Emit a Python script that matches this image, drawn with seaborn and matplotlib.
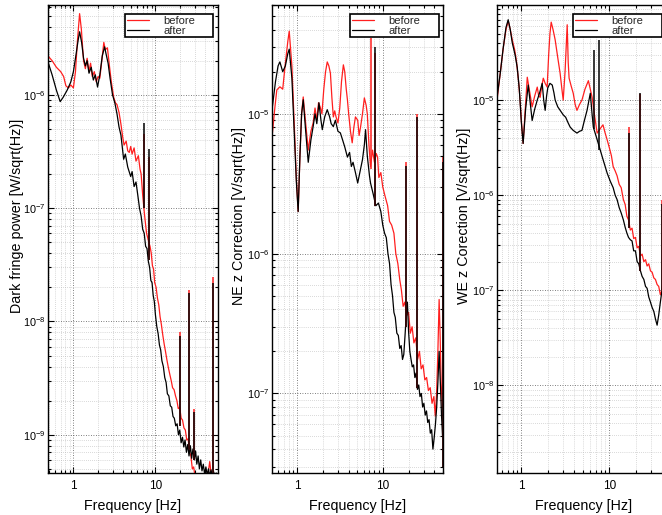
import numpy as np
import matplotlib
matplotlib.use("Agg")
import matplotlib.pyplot as plt
import seaborn as sns
from matplotlib.ticker import LogLocator, NullFormatter

# ---- panel 1 : dark fringe power ----
f1_before = [0.49, 0.55, 0.62, 0.70, 0.76, 0.81, 0.87, 0.93, 1.00, 1.06,
             1.12, 1.19, 1.25, 1.33, 1.40, 1.47, 1.55, 1.62, 1.70, 1.80,
             1.90, 2.00, 2.10, 2.22, 2.35, 2.45, 2.60, 2.75, 2.90, 3.10,
             3.25, 3.40, 3.60, 3.80, 4.00, 4.15, 4.40, 4.60, 4.80, 5.00,
             5.20, 5.50, 5.80, 6.20, 6.50, 6.70, 7.00, 7.40, 7.80, 8.20,
             8.60, 8.90, 9.20, 9.50, 9.80, 10.2, 10.6, 11.0, 11.4, 11.8,
             12.3, 12.8, 13.3, 13.8, 14.4, 15.0, 15.6, 16.2, 16.9, 17.6,
             18.3, 19.0, 19.8, 20.6, 21.4, 22.3, 23.2, 24.1, 25.1, 26.1,
             27.1, 28.2, 29.3, 30.5, 32, 34, 36, 38, 40, 42,
             44, 46, 48, 51, 54, 57]
v1_before = [2.2e-6, 2.0e-6, 1.75e-6, 1.6e-6, 1.45e-6, 1.2e-6, 1.15e-6, 1.22e-6, 1.15e-6, 1.6e-6,
             3.0e-6, 5.2e-6, 3.8e-6, 2.0e-6, 1.7e-6, 2.1e-6, 1.6e-6, 1.9e-6, 1.45e-6, 1.6e-6,
             1.3e-6, 1.45e-6, 1.4e-6, 2.0e-6, 2.9e-6, 2.5e-6, 2.6e-6, 1.8e-6, 1.3e-6, 9.5e-7,
             8.5e-7, 8.2e-7, 7.0e-7, 5.5e-7, 4.2e-7, 3.6e-7, 3.9e-7, 3.2e-7, 3.1e-7, 3.5e-7,
             3.0e-7, 3.4e-7, 2.6e-7, 2.9e-7, 2.2e-7, 2.0e-7, 1.3e-7, 8.5e-8, 6.0e-8, 5.2e-8,
             4.6e-8, 4.0e-8, 3.1e-8, 2.9e-8, 2.2e-8, 2.0e-8, 1.6e-8, 1.4e-8, 1.1e-8, 9.5e-9,
             7.6e-9, 6.3e-9, 5.4e-9, 4.6e-9, 3.9e-9, 3.4e-9, 3.0e-9, 2.6e-9, 2.5e-9, 2.2e-9,
             2.0e-9, 1.7e-9, 1.75e-9, 1.4e-9, 1.35e-9, 1.15e-9, 1.1e-9, 9.0e-10, 9.2e-10, 7.0e-10,
             6.5e-10, 5.0e-10, 5.2e-10, 4.2e-10, 4.0e-10, 3.6e-10, 3.8e-10, 3.5e-10, 3.8e-10, 4.1e-10,
             4.6e-10, 5.8e-10, 4.4e-10, 3.8e-10, 3.6e-10, 3.5e-10]
f1_after = [0.49, 0.55, 0.62, 0.69, 0.75, 0.84, 0.93, 1.00, 1.08, 1.14,
            1.19, 1.26, 1.33, 1.40, 1.47, 1.55, 1.65, 1.75, 1.85, 1.97,
            2.10, 2.25, 2.40, 2.50, 2.65, 2.80, 3.00, 3.20, 3.40, 3.60,
            3.80, 4.10, 4.30, 4.60, 5.00, 5.20, 5.50, 5.80, 6.10, 6.40,
            6.70, 7.00, 7.30, 7.60, 7.90, 8.20, 8.50, 8.80, 9.10, 9.40,
            9.70, 10.0, 10.4, 10.8, 11.2, 11.6, 12.0, 12.5, 13.0, 13.5,
            14.0, 14.6, 15.2, 15.8, 16.4, 17.0, 17.7, 18.4, 19.1, 19.8,
            20.6, 21.4, 22.2, 23.0, 23.9, 24.8, 25.7, 26.7, 27.7, 28.7,
            29.8, 30.9, 32.0, 33.2, 34.4, 35.7, 37.0, 38.4, 39.8, 41.3,
            42.8, 44.4, 46.0, 47.7, 49.5, 51.3, 53.2, 55.2, 57]
v1_after = [1.95e-6, 1.5e-6, 1.1e-6, 8.7e-7, 9.5e-7, 1.1e-6, 1.3e-6, 1.6e-6, 2.3e-6, 3.0e-6,
            3.6e-6, 2.9e-6, 2.1e-6, 1.8e-6, 2.0e-6, 1.55e-6, 1.75e-6, 1.35e-6, 1.5e-6, 1.17e-6,
            1.5e-6, 2.2e-6, 2.65e-6, 2.3e-6, 1.9e-6, 1.4e-6, 1.0e-6, 8.5e-7, 6.8e-7, 5.2e-7,
            4.4e-7, 2.7e-7, 3.0e-7, 2.3e-7, 1.9e-7, 2.1e-7, 1.55e-7, 1.7e-7, 1.3e-7, 1.0e-7,
            8.5e-8, 6.5e-8, 6.0e-8, 4.6e-8, 4.4e-8, 3.4e-8, 3.0e-8, 2.3e-8, 2.2e-8, 1.7e-8,
            1.5e-8, 1.15e-8, 9.0e-9, 7.8e-9, 6.2e-9, 5.6e-9, 4.5e-9, 4.0e-9, 3.2e-9, 2.9e-9,
            2.3e-9, 2.2e-9, 1.8e-9, 1.75e-9, 1.45e-9, 1.4e-9, 1.2e-9, 1.25e-9, 1.0e-9, 1.1e-9,
            8.5e-10, 9.5e-10, 7.8e-10, 9.0e-10, 7.0e-10, 8.2e-10, 6.5e-10, 8.0e-10, 6.2e-10, 7.5e-10,
            6.0e-10, 7.2e-10, 5.5e-10, 6.5e-10, 5.0e-10, 6.0e-10, 4.8e-10, 5.5e-10, 4.5e-10, 5.2e-10,
            4.4e-10, 5.0e-10, 4.3e-10, 4.9e-10, 4.2e-10, 4.7e-10, 4.3e-10, 4.6e-10, 4.4e-10]
lines1_f = [7.3, 8.4, 20.0, 26.0, 29.5, 50.0]
lines1_low = [1.0e-7, 3.5e-8, 1.2e-9, 7.5e-10, 6.0e-10, 4.2e-10]
lines1_before = [4.5e-7, 2.8e-7, 8.1e-9, 1.9e-8, 1.7e-9, 2.45e-8]
lines1_after = [5.6e-7, 3.3e-7, 7.5e-9, 1.8e-8, 1.6e-9, 2.2e-8]
ydec1 = [-9, -8, -7, -6]

# ---- panel 2 : NE z correction ----
f2_before = [0.51, 0.55, 0.58, 0.63, 0.68, 0.73, 0.78, 0.81, 0.87, 0.93,
             0.98, 1.03, 1.08, 1.13, 1.18, 1.25, 1.35, 1.45, 1.54, 1.62,
             1.70, 1.78, 1.86, 1.95, 2.05, 2.15, 2.25, 2.35, 2.45, 2.55,
             2.65, 2.75, 2.85, 3.00, 3.15, 3.30, 3.47, 3.60, 3.75, 3.87,
             4.00, 4.20, 4.40, 4.60, 4.80, 5.10, 5.30, 5.50, 5.80, 6.10,
             6.40, 6.60, 6.90, 7.20, 7.60, 8.00, 8.40, 8.70, 9.00, 9.50,
             10.0, 10.6, 11.4, 12.0, 12.7, 13.5, 14.2, 15.0, 15.8, 16.5,
             17.3, 18.1, 19.0, 20.0, 21.0, 22.0, 23.1, 24.3, 25.5, 26.8,
             28.1, 29.5, 31.0, 32.5, 34.1, 35.8, 37.6, 39.5, 41.0, 42.5,
             44.0, 45.5, 46.8, 48.0, 49.5]
v2_before = [6.8e-6, 1.1e-5, 1.48e-5, 1.56e-5, 1.5e-5, 2.3e-5, 3.3e-5, 3.9e-5, 2.2e-5, 8e-6,
             3.5e-6, 2.0e-6, 5e-6, 1.0e-5, 1.32e-5, 9e-6, 5.5e-6, 7.5e-6, 8.6e-6, 1.1e-5,
             9e-6, 1.2e-5, 1.12e-5, 1.0e-5, 1.5e-5, 2.0e-5, 2.35e-5, 2.2e-5, 1.95e-5, 1.3e-5,
             9.5e-6, 1.05e-5, 9.5e-6, 8.6e-6, 1.1e-5, 1.7e-5, 2.24e-5, 2.0e-5, 1.5e-5, 1.26e-5,
             1.0e-5, 7.5e-6, 6.2e-6, 8e-6, 9.5e-6, 9e-6, 7e-6, 8e-6, 1.0e-5, 1.3e-5,
             1.15e-5, 1.0e-5, 6e-6, 4.2e-6, 5.5e-6, 4.5e-6, 5.2e-6, 4.9e-6, 3.5e-6, 3.8e-6,
             3.0e-6, 2.6e-6, 2.2e-6, 1.7e-6, 1.6e-6, 1.4e-6, 1.0e-6, 8.5e-7, 6.5e-7, 5.5e-7,
             4.2e-7, 4.5e-7, 3.6e-7, 3.8e-7, 2.7e-7, 3.0e-7, 2.3e-7, 2.5e-7, 1.75e-7, 2.0e-7,
             1.5e-7, 1.6e-7, 1.25e-7, 1.3e-7, 1.05e-7, 1.1e-7, 8.5e-8, 9.5e-8, 6.9e-8, 1.0e-7,
             2.0e-7, 4.7e-7, 2.5e-7, 1.2e-7, 8e-8]
f2_after = [0.51, 0.56, 0.60, 0.63, 0.68, 0.73, 0.78, 0.81, 0.87, 0.93,
            0.98, 1.03, 1.08, 1.13, 1.18, 1.25, 1.35, 1.45, 1.54, 1.62,
            1.70, 1.80, 1.90, 1.97, 2.10, 2.25, 2.40, 2.50, 2.65, 2.80,
            3.00, 3.20, 3.40, 3.60, 3.87, 4.10, 4.30, 4.50, 4.80, 5.10,
            5.40, 5.80, 6.10, 6.30, 6.60, 7.00, 7.20, 7.70, 8.30, 8.90,
            9.50, 10.0, 10.5, 11.0, 11.5, 12.0, 12.5, 13.0, 13.5, 14.0,
            14.6, 15.2, 15.8, 16.4, 17.0, 17.6, 18.2, 18.8, 19.4, 20.0,
            20.7, 21.4, 22.1, 22.9, 23.7, 24.5, 25.4, 26.3, 27.2, 28.2,
            29.2, 30.2, 31.3, 32.4, 33.5, 34.7, 35.9, 37.2, 38.5, 39.8,
            41.2, 42.6, 44.0, 45.5, 47.0, 48.5, 49.8]
v2_after = [1.07e-5, 1.7e-5, 2.2e-5, 2.35e-5, 2.0e-5, 2.2e-5, 2.7e-5, 2.9e-5, 1.8e-5, 7e-6,
            3.3e-6, 2.0e-6, 5e-6, 1.0e-5, 1.26e-5, 8e-6, 4.5e-6, 6.5e-6, 8.1e-6, 1.0e-5,
            8.5e-6, 1.2e-5, 9e-6, 7.7e-6, 9.5e-6, 1.07e-5, 9.5e-6, 8.5e-6, 8.1e-6, 9e-6,
            7.5e-6, 7.3e-6, 6.5e-6, 5.8e-6, 4.9e-6, 5.3e-6, 4.2e-6, 4.5e-6, 3.8e-6, 3.2e-6,
            3.8e-6, 4.7e-6, 6e-6, 7.7e-6, 5e-6, 3.6e-6, 3.2e-6, 2.7e-6, 2.2e-6, 2.3e-6,
            2.0e-6, 1.6e-6, 1.4e-6, 1.3e-6, 1.0e-6, 8.5e-7, 6.0e-7, 5.0e-7, 3.8e-7, 3.5e-7,
            2.7e-7, 2.6e-7, 2.1e-7, 2.2e-7, 1.75e-7, 1.9e-7, 2.6e-7, 3.6e-7, 4.5e-7, 2.8e-7,
            2.0e-7, 1.75e-7, 1.55e-7, 1.6e-7, 1.3e-7, 1.4e-7, 1.07e-7, 1.15e-7, 9.5e-8, 1.0e-7,
            8.0e-8, 8.5e-8, 7.0e-8, 7.5e-8, 6.2e-8, 6.5e-8, 5.2e-8, 5.5e-8, 4.0e-8, 4.8e-8,
            6e-8, 8e-8, 1.2e-7, 2e-7, 1.2e-7, 7e-8, 5e-8]
lines2_f = [7.2, 8.1, 18.6, 25.0, 50.0]
lines2_low = [4.0e-6, 2.2e-6, 3.0e-7, 1.1e-7, 3.0e-8]
lines2_before = [3.5e-5, 2.7e-5, 4.5e-6, 1.0e-5, 4.9e-6]
lines2_after = [4.0e-6, 3.0e-5, 4.2e-6, 9.5e-6, 4.5e-6]
ydec2 = [-7, -6, -5]

# ---- panel 3 : WE z correction ----
f3_before = [0.53, 0.58, 0.62, 0.67, 0.71, 0.75, 0.79, 0.84, 0.88, 0.93,
             0.97, 1.01, 1.05, 1.10, 1.17, 1.25, 1.33, 1.42, 1.52, 1.58,
             1.64, 1.71, 1.78, 1.87, 1.97, 2.05, 2.12, 2.19, 2.30, 2.43,
             2.60, 2.77, 2.90, 3.00, 3.15, 3.33, 3.42, 3.50, 3.70, 3.90,
             4.10, 4.30, 4.60, 4.90, 5.30, 5.80, 6.10, 6.40, 6.80, 7.30,
             7.90, 8.50, 9.00, 9.50, 10.0, 10.6, 11.1, 11.7, 12.3, 13.0,
             13.7, 14.5, 15.2, 15.9, 16.6, 17.4, 18.2, 19.0, 19.9, 20.8,
             21.7, 22.7, 23.7, 24.8, 25.9, 27.0, 28.2, 29.5, 30.8, 32.2,
             33.6, 35.1, 36.6, 38.2, 39.9, 41.7, 43.5, 45.5, 47.5, 49.5]
v3_before = [1.0e-5, 2.0e-5, 3.4e-5, 5.5e-5, 6.8e-5, 5.5e-5, 4.3e-5, 3.4e-5, 2.6e-5, 1.6e-5,
             1.0e-5, 5.5e-6, 3.5e-6, 7e-6, 1.74e-5, 1.2e-5, 8.5e-6, 1.1e-5, 1.37e-5, 1.1e-5,
             1.07e-5, 1.4e-5, 1.7e-5, 1.5e-5, 1.37e-5, 3.0e-5, 5e-5, 6.6e-5, 5.5e-5, 4.3e-5,
             2.8e-5, 1.9e-5, 1.3e-5, 1.0e-5, 2.0e-5, 6.2e-5, 2.5e-5, 1.7e-5, 1.4e-5, 1.18e-5,
             9e-6, 7.8e-6, 9e-6, 1.0e-5, 1.3e-5, 1.6e-5, 1.3e-5, 1.07e-5, 7e-6, 4.5e-6,
             5e-6, 5.5e-6, 4.5e-6, 3.8e-6, 3.2e-6, 2.6e-6, 2.0e-6, 1.8e-6, 1.6e-6, 1.3e-6,
             1.2e-6, 9e-7, 8e-7, 6e-7, 5.5e-7, 4.3e-7, 4.5e-7, 3.5e-7, 3.6e-7, 2.8e-7,
             2.9e-7, 2.3e-7, 2.4e-7, 2.0e-7, 2.1e-7, 1.8e-7, 1.9e-7, 1.6e-7, 1.55e-7, 1.35e-7,
             1.3e-7, 1.15e-7, 1.1e-7, 9e-8, 1.0e-7, 1.5e-7, 3e-7, 2e-7, 1.3e-7, 1.0e-7]
f3_after = [0.53, 0.58, 0.62, 0.67, 0.71, 0.75, 0.79, 0.85, 0.90, 0.95,
            1.00, 1.05, 1.12, 1.20, 1.27, 1.33, 1.42, 1.52, 1.62, 1.73,
            1.80, 1.87, 1.94, 2.00, 2.12, 2.25, 2.35, 2.43, 2.60, 2.77,
            3.00, 3.20, 3.40, 3.60, 3.90, 4.30, 4.60, 4.90, 5.20, 5.60,
            6.10, 6.40, 6.60, 7.20, 7.90, 8.60, 9.50, 10.3, 11.1, 11.7,
            12.3, 13.0, 13.7, 14.5, 15.2, 15.9, 16.6, 17.4, 18.2, 19.0,
            19.9, 20.8, 21.7, 22.7, 23.7, 24.8, 25.9, 27.0, 28.2, 29.5,
            30.8, 32.2, 33.6, 35.1, 36.6, 38.2, 39.9, 41.7, 43.5, 45.5,
            47.5, 49.5]
v3_after = [1.07e-5, 2.0e-5, 3.4e-5, 5.8e-5, 7.0e-5, 5.5e-5, 4.0e-5, 3.0e-5, 2.2e-5, 1.3e-5,
            6e-6, 3.5e-6, 8e-6, 1.44e-5, 9e-6, 6.1e-6, 8e-6, 1.0e-5, 1.2e-5, 1.5e-5,
            1.0e-5, 7.8e-6, 1.1e-5, 1.34e-5, 1.5e-5, 1.44e-5, 1.2e-5, 1.0e-5, 8.5e-6, 7.8e-6,
            7e-6, 6.6e-6, 5.8e-6, 5.2e-6, 4.8e-6, 4.5e-6, 4.7e-6, 4.8e-6, 6e-6, 7.8e-6,
            1.18e-5, 7e-6, 5.2e-6, 4e-6, 3.0e-6, 2.3e-6, 1.7e-6, 1.4e-6, 1.2e-6, 1.0e-6,
            9e-7, 7.4e-7, 6.5e-7, 5.5e-7, 4.6e-7, 4.0e-7, 3.6e-7, 3.4e-7, 3.3e-7, 2.6e-7,
            2.6e-7, 2.0e-7, 1.9e-7, 1.6e-7, 1.4e-7, 1.3e-7, 1.1e-7, 1.05e-7, 8.5e-8, 7.5e-8,
            6.6e-8, 6.0e-8, 5.0e-8, 4.3e-8, 5.5e-8, 7.5e-8, 1.0e-7, 1.4e-7, 1.1e-7, 8e-8,
            6e-8, 5e-8]
lines3_f = [6.7, 7.7, 16.8, 22.5, 40.0, 50.0]
lines3_low = [5e-6, 3e-6, 4.5e-7, 1.6e-7, 1.0e-7, 5e-8]
lines3_before = [5e-6, 3e-6, 5.2e-6, 1.15e-5, 8.9e-7, 5e-6]
lines3_after = [3.4e-5, 4.3e-5, 4.5e-6, 1.18e-5, 8.0e-7, 4.5e-6]
ydec3 = [-8, -7, -6, -5]

sns.set_theme(style="white")
plt.rcParams['font.family'] = ['Liberation Sans', 'DejaVu Sans']
plt.rcParams['mathtext.fontset'] = 'custom'
plt.rcParams['mathtext.rm'] = 'Liberation Sans'
plt.rcParams['mathtext.it'] = 'Liberation Sans:italic'
plt.rcParams['mathtext.bf'] = 'Liberation Sans:bold'

RED = '#ff1f1f'


def spectrum_panel(ax, f_b, v_b, f_a, v_a, sp_f, sp_lo, sp_b, sp_a,
                   xlim, ylim, ydec, ylabel, leg_x, leg_w, lab_x):
    ax.set_xscale('log')
    ax.set_yscale('log')
    sns.lineplot(x=f_b, y=v_b, color=RED, linewidth=0.9, estimator=None,
                 sort=False, ax=ax, label='before')
    sns.lineplot(x=f_a, y=v_a, color='black', linewidth=0.9, estimator=None,
                 sort=False, ax=ax, label='after')
    ax.vlines(sp_f, sp_lo, sp_b, color=RED, linewidth=1.1)
    ax.vlines(sp_f, sp_lo, sp_a, color='black', linewidth=1.1)

    ax.set_xlim(*xlim)
    ax.set_ylim(*ylim)
    ax.set_xticks([1, 10])
    ax.set_xticklabels(['1', '10'])
    ax.xaxis.set_minor_locator(LogLocator(base=10, subs=np.arange(2, 10), numticks=50))
    ax.xaxis.set_minor_formatter(NullFormatter())
    ax.set_yticks([10.0 ** d for d in ydec])
    ax.set_yticklabels([r'$\mathregular{10^{%d}}$' % d for d in ydec])
    ax.yaxis.set_minor_locator(LogLocator(base=10, subs=np.arange(2, 10), numticks=50))
    ax.yaxis.set_minor_formatter(NullFormatter())

    ax.grid(True, which='major', linestyle=(0, (1, 2)), color='#555555', linewidth=0.6)
    ax.grid(True, which='minor', linestyle=(0, (1, 2)), color='#b5b5b5', linewidth=0.5)
    ax.set_axisbelow(True)
    ax.tick_params(which='both', direction='in', top=True, right=True,
                   bottom=True, left=True, colors='black', width=0.8)
    ax.tick_params(which='major', length=4.5)
    ax.tick_params(which='minor', length=2.5)
    ax.tick_params(axis='x', labelsize=8.5, pad=5)
    ax.tick_params(axis='y', labelsize=7.8, pad=1.5)
    for s in ax.spines.values():
        s.set_color('black')
        s.set_linewidth(1.0)

    ax.set_xlabel('Frequency [Hz]', fontsize=10.3, color='black', labelpad=5)
    ax.set_ylabel(ylabel, fontsize=10.3, color='black')
    ax.yaxis.set_label_coords(lab_x, 0.55)

    leg = ax.legend(loc='upper left', bbox_to_anchor=(leg_x, 0.981, leg_w, 0),
                    mode='expand', borderaxespad=0, fontsize=8, frameon=True,
                    fancybox=False, edgecolor='black', framealpha=1,
                    borderpad=0.15, labelspacing=0.0, handlelength=2.0,
                    handletextpad=1.3)
    leg.get_frame().set_linewidth(1.2)


fig = plt.figure(figsize=(6.62, 5.15), dpi=100)
ax1 = fig.add_axes([0.0725, 0.0816, 0.2568, 0.9087])
ax2 = fig.add_axes([0.4109, 0.0816, 0.2583, 0.9087])
ax3 = fig.add_axes([0.7508, 0.0816, 0.2628, 0.9087])

spectrum_panel(ax1, f1_before, v1_before, f1_after, v1_after,
               lines1_f, lines1_low, lines1_before, lines1_after,
               (0.49, 58), (4.6e-10, 6.2e-6), ydec1,
               'Dark fringe power [W/sqrt(Hz)]', 0.453, 0.518, -0.14)
spectrum_panel(ax2, f2_before, v2_before, f2_after, v2_after,
               lines2_f, lines2_low, lines2_before, lines2_after,
               (0.51, 50.5), (2.7e-8, 6.0e-5), ydec2,
               'NE z Correction [V/sqrt(Hz)]', 0.456, 0.52, -0.15)
spectrum_panel(ax3, f3_before, v3_before, f3_after, v3_after,
               lines3_f, lines3_low, lines3_before, lines3_after,
               (0.53, 50.5), (1.2e-9, 1.0e-4), ydec3,
               'WE z Corection [V/sqrt(Hz)]', 0.437, 0.51, -0.147)

fig.savefig('out.png', dpi=100)
